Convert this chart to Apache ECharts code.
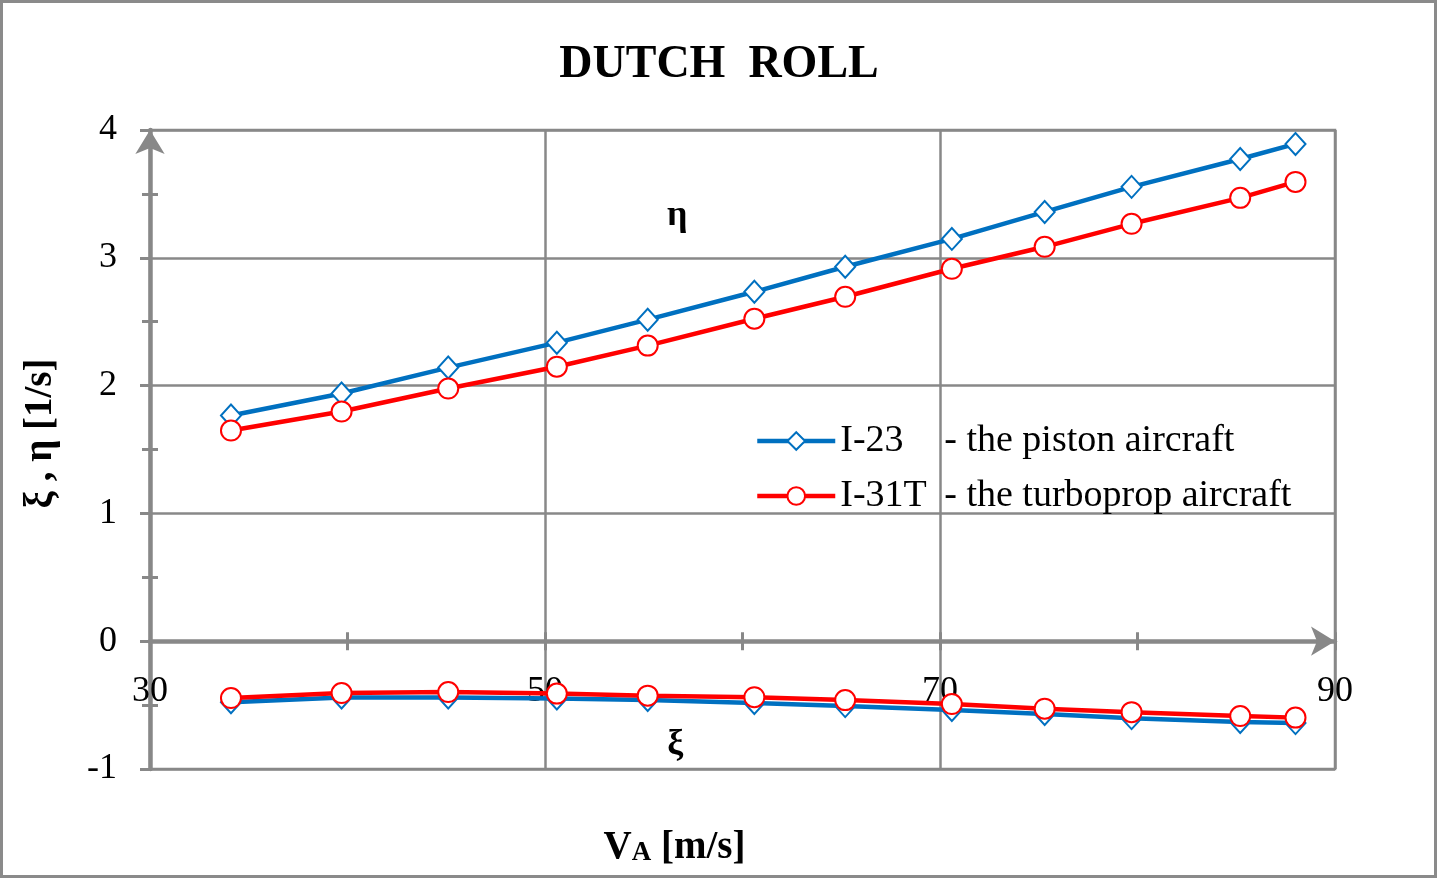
<!DOCTYPE html>
<html>
<head>
<meta charset="utf-8">
<script src="https://cdn.jsdelivr.net/npm/echarts@6/dist/echarts.min.js"></script>
<style>
html,body{margin:0;padding:0;background:#fff;}
#c{width:1438px;height:879px;}
</style>
</head>
<body>
<div id="c"></div>
<script>
// ---- data ----
var va = [34.1, 39.7, 45.1, 50.6, 55.2, 60.6, 65.2, 70.6, 75.3, 79.7, 85.2, 88.0];
var etaI23  = [1.766, 1.938, 2.141, 2.336, 2.516, 2.734, 2.930, 3.148, 3.359, 3.555, 3.773, 3.891];
var xiI23   = [-0.477, -0.441, -0.441, -0.449, -0.461, -0.484, -0.508, -0.539, -0.570, -0.602, -0.633, -0.641];
var etaI31T = [1.648, 1.797, 1.977, 2.148, 2.313, 2.523, 2.695, 2.914, 3.086, 3.266, 3.469, 3.594];
var xiI31T  = [-0.445, -0.406, -0.398, -0.410, -0.426, -0.438, -0.461, -0.492, -0.528, -0.555, -0.586, -0.598];
var seriesNames = ['I-23', 'I-31T'];
var seriesDesc = {'I-23': '- the piston aircraft', 'I-31T': '- the turboprop aircraft'};
var xTicks = {min: 30, max: 90, interval: 20};
var yTicks = {min: -1, max: 4, interval: 1};
var titleText = 'DUTCH  ROLL';
var yName = 'ξ , η [1/s]';
var etaLabel = {text: 'η', x: 56.7, y: 3.33};
var xiLabel = {text: 'ξ', x: 56.6, y: -0.81};

function pairs(xs, ys) { return xs.map(function (x, i) { return [x, ys[i]]; }); }

var FONT = '"Liberation Serif", "Times New Roman", serif';
var GRAY = '#888888';
var BLUE = '#0070C0';
var RED = '#FF0000';

var chart = echarts.init(document.getElementById('c'));

function lineSeries(name, data, color, symbol, size) {
  return {
    name: name, type: 'line', data: data,
    xAxisIndex: 0, yAxisIndex: 0,
    symbol: symbol, symbolSize: size,
    lineStyle: {color: color, width: 4.5},
    itemStyle: {color: color, borderColor: color, borderWidth: 3.5},
    emphasis: {disabled: true},
    animation: false
  };
}

var option = {
  animation: false,
  title: {
    text: titleText, left: 'center', top: 37,
    textStyle: {fontFamily: FONT, fontSize: 46, fontWeight: 'bold', color: '#000'}
  },
  grid: {left: 150, right: 103, top: 130, bottom: 110, show: true, borderColor: GRAY, borderWidth: 2.5,
         containLabel: false, outerBoundsMode: 'none'},
  legend: {
    orient: 'vertical', left: 750, top: 417,
    itemWidth: 78, itemHeight: 22, itemGap: 17,
    data: seriesNames,
    lineStyle: {width: 4.5},
    itemStyle: {borderWidth: 3},
    formatter: function (n) { return '{a|' + n + '}{b|' + seriesDesc[n] + '}'; },
    textStyle: {
      fontFamily: FONT, fontSize: 38, color: '#000', lineHeight: 34,
      rich: {
        a: {fontFamily: FONT, fontSize: 38, color: '#000', width: 104, lineHeight: 34},
        b: {fontFamily: FONT, fontSize: 38, color: '#000', lineHeight: 34}
      }
    }
  },
  xAxis: [{
    type: 'value', min: xTicks.min, max: xTicks.max, interval: xTicks.interval, position: 'bottom',
    name: '{v|V}{s|A}{t| [m/s]}', nameLocation: 'middle', nameGap: 52,
    nameTextStyle: {
      padding: [0, 136, 0, 0],
      rich: {
        v: {fontFamily: FONT, fontSize: 39, fontWeight: 'bold', color: '#000', lineHeight: 46, verticalAlign: 'bottom'},
        s: {fontFamily: FONT, fontSize: 27, fontWeight: 'bold', color: '#000', lineHeight: 36, verticalAlign: 'bottom'},
        t: {fontFamily: FONT, fontSize: 39, fontWeight: 'bold', color: '#000', lineHeight: 46, verticalAlign: 'bottom'}
      }
    },
    axisLine: {show: true, onZero: true, symbol: ['none', 'arrow'], symbolSize: [22, 24], lineStyle: {color: GRAY, width: 4.5}},
    axisTick: {show: true, length: 9, lineStyle: {color: GRAY, width: 3}},
    minorTick: {show: true, splitNumber: 2, length: 9, lineStyle: {color: GRAY, width: 3}},
    axisLabel: {fontFamily: FONT, fontSize: 36, color: '#000', margin: -95},
    splitLine: {show: true, lineStyle: {color: GRAY, width: 2.5}}
  }, {
    type: 'value', min: xTicks.min, max: xTicks.max, interval: xTicks.interval, position: 'bottom',
    axisLine: {show: false, onZero: true},
    axisTick: {show: true, inside: true, length: 9, lineStyle: {color: GRAY, width: 3}},
    minorTick: {show: true, splitNumber: 2, length: 9, lineStyle: {color: GRAY, width: 3}},
    axisLabel: {show: false},
    splitLine: {show: false}
  }],
  yAxis: [{
    type: 'value', min: yTicks.min, max: yTicks.max, interval: yTicks.interval, position: 'left',
    name: yName, nameLocation: 'middle', nameGap: 90, nameRotate: 90,
    nameTextStyle: {fontFamily: FONT, fontSize: 39, fontWeight: 'bold', color: '#000', padding: [0, 0, 0, 32]},
    axisLine: {show: true, onZero: false, symbol: ['none', 'arrow'], symbolSize: [22, 24], lineStyle: {color: GRAY, width: 4.5}},
    axisTick: {show: true, length: 10, lineStyle: {color: GRAY, width: 3}},
    minorTick: {show: true, splitNumber: 2, length: 8, lineStyle: {color: GRAY, width: 3}},
    axisLabel: {fontFamily: FONT, fontSize: 36, color: '#000', margin: 33},
    splitLine: {show: true, lineStyle: {color: GRAY, width: 2.5}}
  }, {
    type: 'value', min: yTicks.min, max: yTicks.max, interval: yTicks.interval, position: 'left',
    axisLine: {show: false, onZero: false},
    axisTick: {show: true, inside: true, length: 1, lineStyle: {color: GRAY, width: 3}},
    minorTick: {show: true, splitNumber: 2, length: 8, lineStyle: {color: GRAY, width: 3}},
    axisLabel: {show: false},
    splitLine: {show: false}
  }],
  series: [
    lineSeries('I-23', pairs(va, etaI23), BLUE, 'emptyDiamond', [20, 22]),
    lineSeries('I-23', pairs(va, xiI23), BLUE, 'emptyDiamond', [20, 22]),
    lineSeries('I-31T', pairs(va, etaI31T), RED, 'emptyCircle', 20),
    lineSeries('I-31T', pairs(va, xiI31T), RED, 'emptyCircle', 20)
  ]
};
chart.setOption(option);

var pEta = chart.convertToPixel({gridIndex: 0}, [etaLabel.x, etaLabel.y]);
var pXi = chart.convertToPixel({gridIndex: 0}, [xiLabel.x, xiLabel.y]);
chart.setOption({
  graphic: [
    {type: 'rect', z: -10, silent: true, shape: {x: 1.5, y: 1.5, width: 1434, height: 875},
     style: {fill: 'none', stroke: '#8a8a8a', lineWidth: 3}},
    {type: 'text', x: pEta[0], y: pEta[1], silent: true,
     style: {text: etaLabel.text, fontFamily: FONT, fontSize: 36, fontWeight: 'bold', fill: '#000', align: 'center', verticalAlign: 'middle'}},
    {type: 'text', x: pXi[0], y: pXi[1], silent: true,
     style: {text: xiLabel.text, fontFamily: FONT, fontSize: 36, fontWeight: 'bold', fill: '#000', align: 'center', verticalAlign: 'middle'}}
  ]
});
</script>
</body>
</html>
